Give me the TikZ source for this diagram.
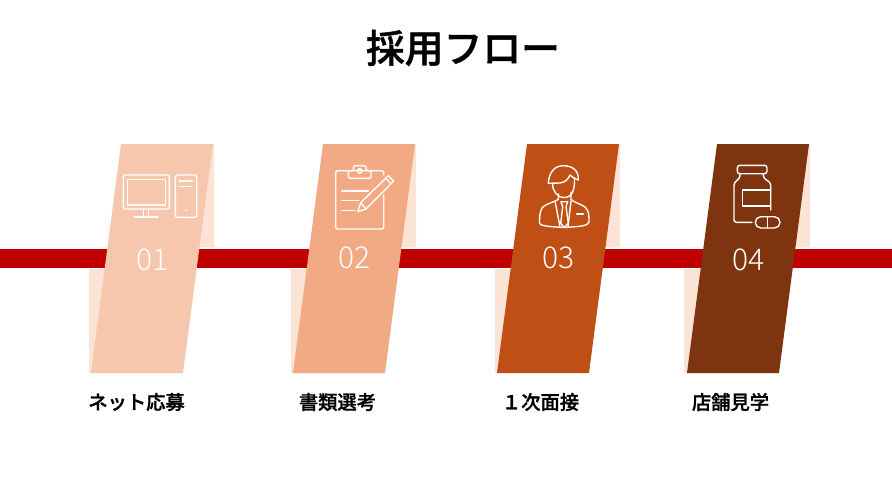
\documentclass[tikz,border=0pt]{standalone}
\usepackage{fontspec}
\newfontfamily\jpfont[FakeBold=1.2]{Noto Sans CJK JP Medium}
\newfontfamily\numfont[LetterSpace=3]{Noto Sans CJK JP Light}
\definecolor{barred}{HTML}{C00000}
\definecolor{paleback}{HTML}{FBE3D6}
\definecolor{stepa}{HTML}{F6C6AD}
\definecolor{stepb}{HTML}{F2AA84}
\definecolor{stepc}{HTML}{BF4F14}
\definecolor{stepd}{HTML}{7F3410}
\tikzset{every node/.style={inner sep=0pt},
  icon/.style={draw=white,line width=1.4pt,line join=round,line cap=round},
  numlabel/.style={white,font=\numfont\fontsize{30}{30}\selectfont},
  steplabel/.style={black,font=\jpfont\fontsize{19.3}{19.3}\selectfont}}

\begin{document}
\begin{tikzpicture}[x=1pt,y=-1pt]
     \useasboundingbox (0,0) rectangle (892,477);
     \node (title) at (463,48) {\jpfont\fontsize{38.8}{38.8}\selectfont 採用フロー};
     % pale pieces
     \fill[paleback] (121,144) rectangle (214,247) (89,269) rectangle (183,373);
     \fill[paleback] (323,144) rectangle (416,247) (291,269) rectangle (385,373);
     \fill[paleback] (527,144) rectangle (620,247) (495,269) rectangle (589,373);
     \fill[paleback] (717,144) rectangle (810,247) (684,269) rectangle (779,373);
     \fill[barred] (0,249) rectangle (892,268);
     % slanted bands
     \fill[stepa] (121,144) -- (213,144) -- (183,373) -- (91,373) -- cycle;
     \fill[stepb] (323,144) -- (415,144) -- (385,373) -- (293,373) -- cycle;
     \fill[stepc] (527,144) -- (619,144) -- (589,373) -- (497,373) -- cycle;
     \fill[stepd] (717,144) -- (809,144) -- (779,373) -- (687,373) -- cycle;
     % computer
     \begin{scope}[icon]
      \draw[rounded corners=1.5pt] (123.3,175) rectangle (169.3,209);
      \draw (127.7,179.3) rectangle (165.3,205);
      \draw (143.3,209) -- (143.3,217) (148.7,209) -- (148.7,217) (134.3,217) -- (158,217);
      \draw[rounded corners=1.5pt] (175.3,175) rectangle (196.7,217.3);
      \draw (179.3,181) -- (192.3,181) (179.3,186.3) -- (192.3,186.3);
      \fill[white] (186,210.3) circle(1);
     \end{scope}
     % clipboard
     \begin{scope}[icon]
      \draw[rounded corners=1.5pt] (383.7,175) |- (335.7,170.7) |- (383.7,229) -- (383.7,195);
      \draw[rounded corners=1.5pt] (348.3,170.7) -- (348.3,178.3) -- (371,178.3) -- (371,170.7) -- (366,170.7) -- (366,165.7) -- (353.5,165.7) -- (353.5,170.7) -- cycle;
      \draw (359.7,171) circle(2.3);
      \draw (341.7,191) -- (368.3,191) (341.7,200.7) -- (359,200.7) (341.7,210.7) -- (355,210.7);
      \draw (357.7,211.7) -- (360.7,202.7) -- (388.3,175.7) -- (393.7,181) -- (366,209) -- cycle;
      \draw (360.7,202.7) -- (366,209) (385.7,178.3) -- (391,183.7);
     \end{scope}
     % person
     \begin{scope}[icon]
      \draw (552.5,183.3) .. controls (552.5,191) and (557,197.5) .. (564.5,197.5) .. controls (572,197.5) and (575,190) .. (574.5,178);
      \draw (548.3,183.3) .. controls (549,172) and (555,165.7) .. (563,165.7) .. controls (572,165.7) and (579,170) .. (578.3,180) .. controls (575,179) and (572,177) .. (570,175) .. controls (568,179) and (566,182) .. (560,183) -- cycle;
      \draw (558.3,194) -- (558.3,199.5) .. controls (552,203) and (545,204) .. (542,208) .. controls (539.5,212) and (539.5,219) .. (539.5,223) .. controls (540,226) and (548,226.5) .. (564,227.5) .. controls (580,226.5) and (588,226) .. (589,222) .. controls (589,215) and (589,211) .. (585,207) .. controls (581,204) and (575,203) .. (571,199.5) -- (571,192);
      \draw (561,201.7) -- (567.7,201.7) -- (566,206.7) -- (568.3,223.3) -- (564.3,227.5) -- (560.7,223.3) -- (562.7,206.7) -- cycle;
      \draw (555,201) -- (560,227) (571,201) -- (568,227);
      \draw (576.7,214) -- (583.3,214);
     \end{scope}
     % bottle
     \begin{scope}[icon]
      \draw[rounded corners=2.5pt] (737.3,165.3) rectangle (767,173.7);
      \draw[rounded corners=2.5pt] (740,173.7) -- (740,177.7) -- (734,183) -- (734,222.3) -- (752,222.3);
      \draw[rounded corners=2.5pt] (763.3,173.7) -- (763.3,177.7) -- (770.7,183) -- (770.7,210);
      \draw (770.7,190) -- (742.3,190) -- (742.3,206) -- (770.7,206);
      \draw[rounded corners=5.5pt] (755.3,216.7) rectangle (780,228);
      \draw (767.7,216.7) -- (767.7,228);
     \end{scope}
     \node[numlabel] (numa) at (152.5,259.7) {01};
     \node[numlabel] (numb) at (354.5,257.7) {02};
     \node[numlabel] (numc) at (558.5,257.7) {03};
     \node[numlabel] (numd) at (748.5,259.7) {04};
     \node[steplabel] (laba) at (136.5,402) {ネット応募};
     \node[steplabel] (labb) at (337.5,402) {書類選考};
     \node[steplabel] (labc) at (540.5,402) {１次面接};
     \node[steplabel] (labd) at (730.5,402) {店舗見学};
\end{tikzpicture}
\end{document}
